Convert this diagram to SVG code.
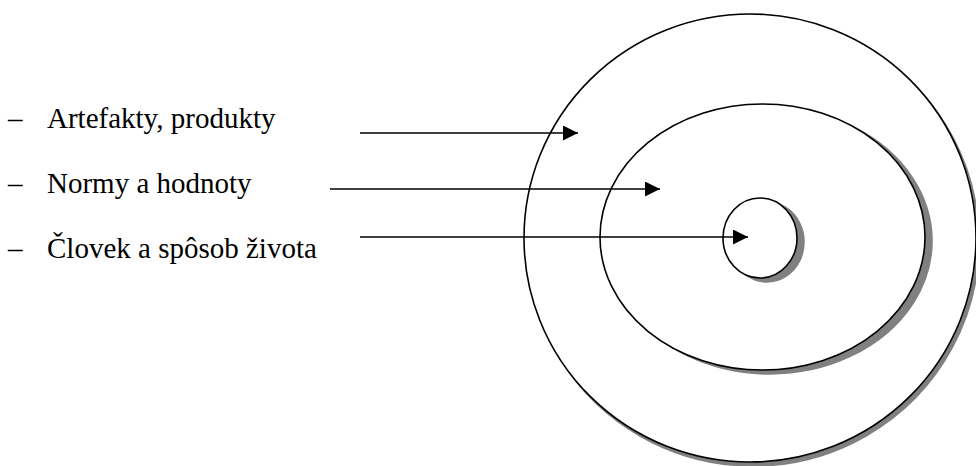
<svg xmlns="http://www.w3.org/2000/svg" width="976" height="466" viewBox="0 0 976 466">
<style>
.lbl{font-family:"Liberation Serif","Times New Roman",serif;font-size:29px;fill:#000}
.ring{fill:#ffffff;stroke:#000000;stroke-width:1.6}
.shd{fill:#808080;stroke:#808080;stroke-width:1.6}
.conn{stroke:#000;stroke-width:1.6;fill:none}
</style>
<defs>
<marker id="ah" markerUnits="userSpaceOnUse" markerWidth="16" markerHeight="16" refX="15" refY="7.5" orient="auto">
<path d="M0,0 L15,7.5 L0,15 z" fill="#000"/>
</marker>
</defs>
<rect width="976" height="466" fill="#ffffff"/>
<g id="outer">
<path class="shd" d="M979,242 A226,224 0 1 1 979,241.9 Z"/>
<ellipse class="ring" cx="750" cy="238" rx="226" ry="224"/>
</g>
<g id="middle">
<path class="shd" d="M932,241 A162.5,133 0 1 1 932,240.9 Z"/>
<ellipse class="ring" cx="762.5" cy="237" rx="162.5" ry="133"/>
</g>
<g id="inner">
<path class="shd" d="M804,242 A37,40 0 1 1 804,241.9 Z"/>
<ellipse class="ring" cx="760" cy="238" rx="37" ry="40"/>
</g>
<g id="labels">
<text class="lbl" x="8" y="128">–</text>
<text class="lbl" x="47" y="128">Artefakty, produkty</text>
<text class="lbl" x="8" y="193">–</text>
<text class="lbl" x="47" y="193">Normy a hodnoty</text>
<text class="lbl" x="8" y="258">–</text>
<text class="lbl" x="47" y="258">Človek a spôsob života</text>
</g>
<g id="connectors">
<line class="conn" x1="360" y1="133" x2="578" y2="133" marker-end="url(#ah)"/>
<line class="conn" x1="330" y1="189" x2="660" y2="189" marker-end="url(#ah)"/>
<line class="conn" x1="360" y1="237" x2="748" y2="237" marker-end="url(#ah)"/>
</g>
</svg>
